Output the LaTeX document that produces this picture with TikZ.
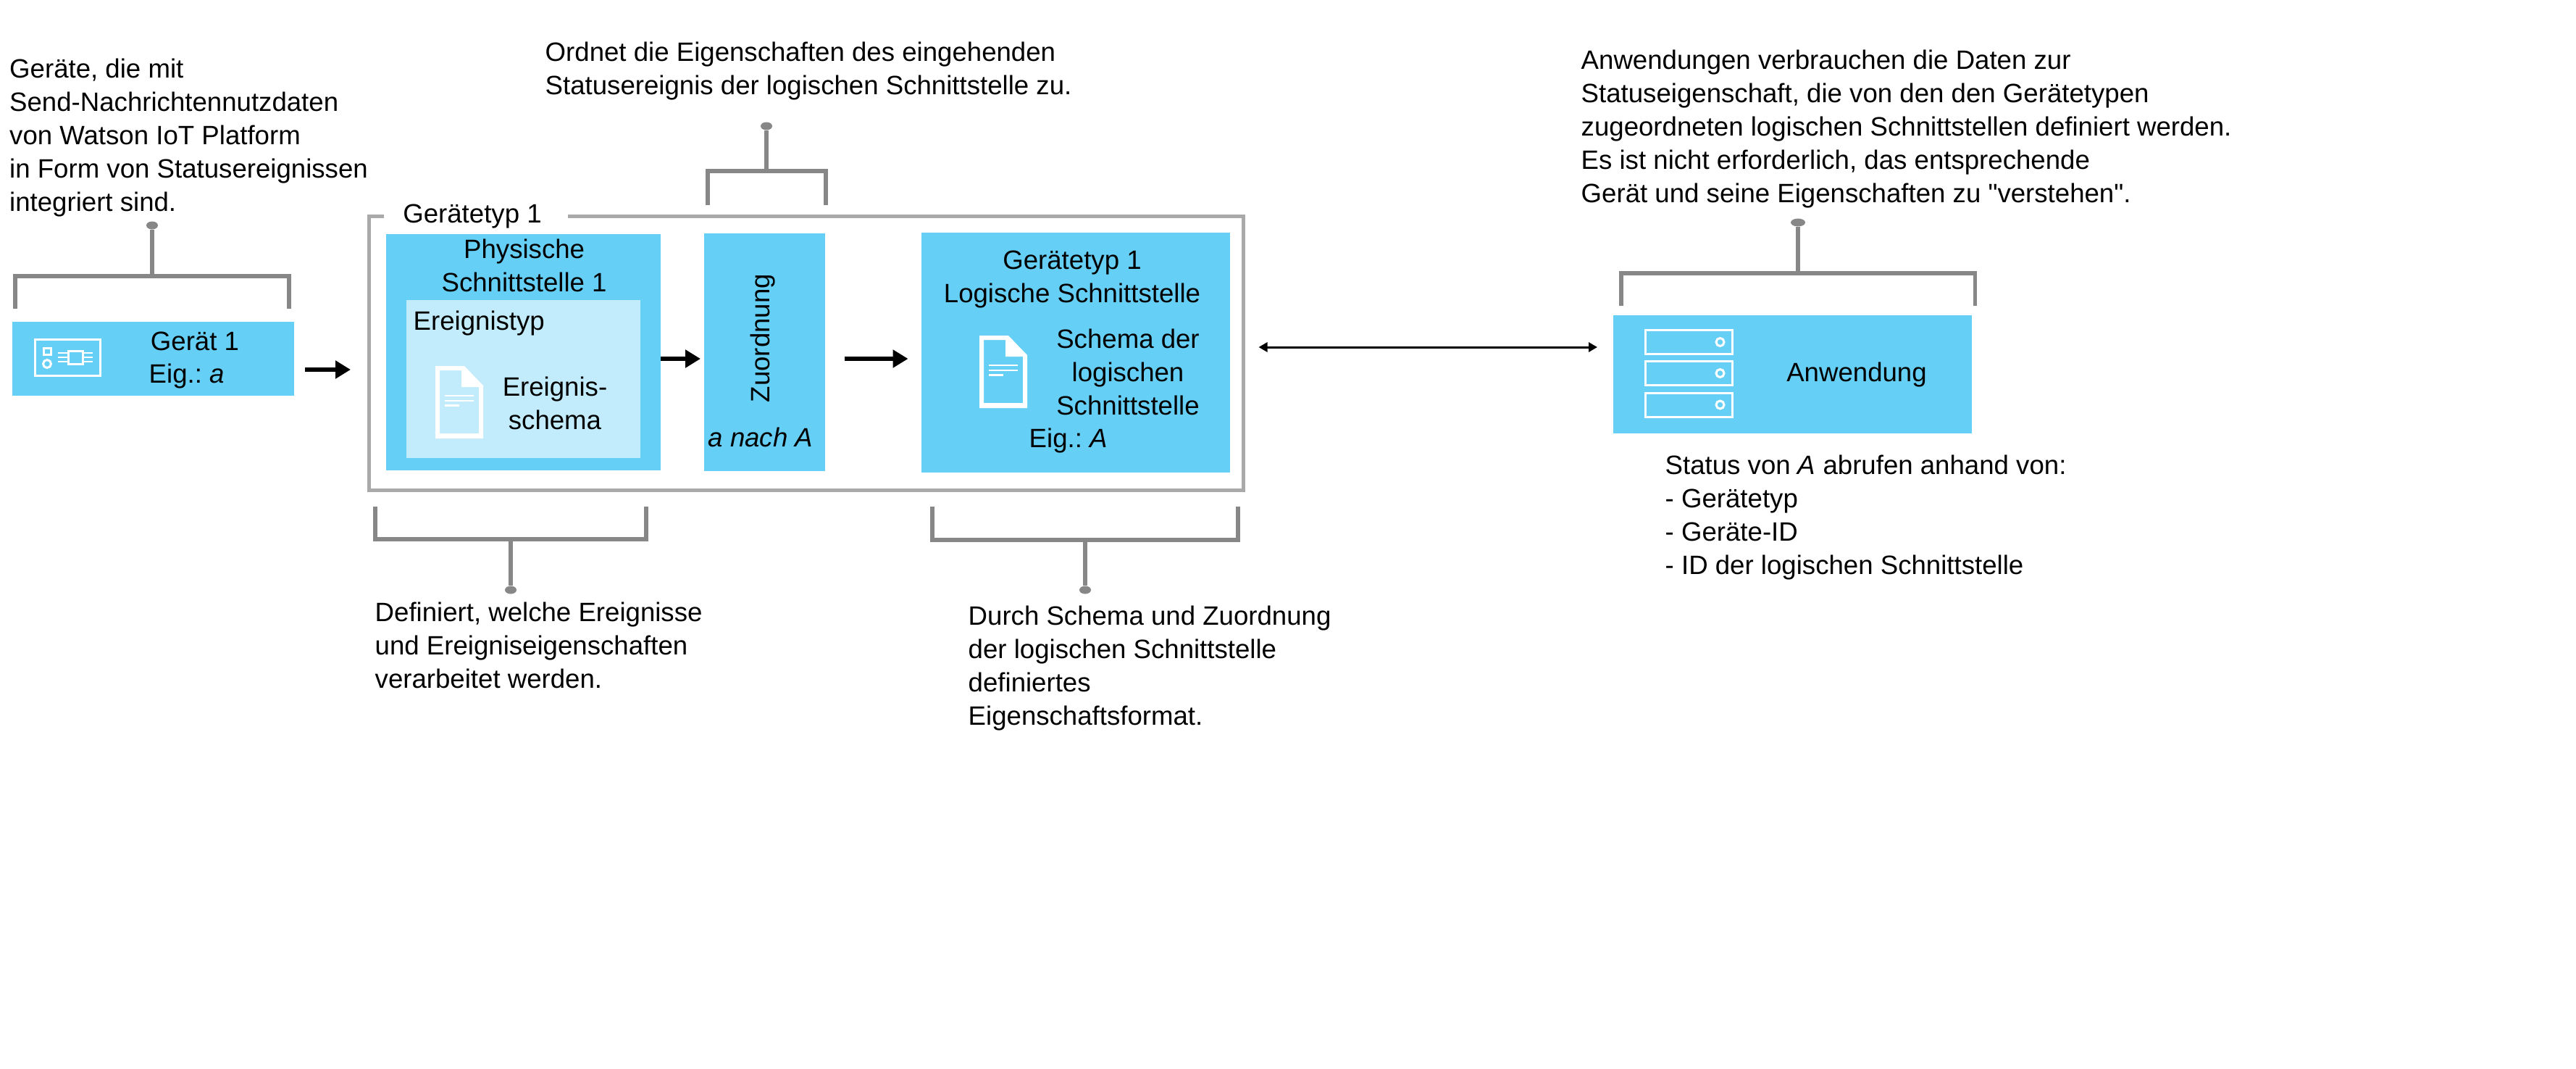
\documentclass[tikz,border=0pt]{standalone}
\usepackage{fontspec}
\setmainfont{Liberation Sans}
\newfontfamily\quotefont{Liberation Sans}
\usetikzlibrary{arrows.meta,shapes.geometric}
\definecolor{boxblue}{HTML}{66CFF5}
\definecolor{paleblue}{HTML}{C2ECFB}
\definecolor{brkgray}{HTML}{878787}
\definecolor{framegray}{HTML}{A9A9A9}
\newcommand{\notefont}{\fontsize{10.42pt}{13.07pt}\selectfont\frenchspacing}
\tikzset{
  note/.style={font=\notefont, inner sep=0pt, align=left, anchor=base west},
  label/.style={font=\notefont, inner sep=0pt, align=center, anchor=base},
  blue/.style={fill=boxblue, inner sep=0pt, outer sep=0pt},
  typeframe/.style={draw=framegray, line width=0.05cm, inner sep=0pt, outer sep=0pt},
  bracket/.style={draw=brkgray, line width=0.055cm},
  dotmark/.style={ellipse, fill=brkgray, inner sep=0pt, minimum width=0.16cm, minimum height=0.11cm},
  flow/.style={line width=0.06cm, -{Triangle[length=0.21cm,width=0.24cm]}},
  both/.style={line width=0.03cm, {Triangle[length=0.12cm,width=0.13cm]}-{Triangle[length=0.12cm,width=0.13cm]}},
  icon/.style={draw=white, line width=0.03cm},
  docicon/.pic={
    \fill[white, even odd rule] (0,0) -- (0.40,0) -- (0.66,0.27) -- (0.66,1) -- (0,1) -- cycle
      (0.06,0.06) -- (0.36,0.06) -- (0.36,0.29) -- (0.60,0.29) -- (0.60,0.93) -- (0.06,0.93) -- cycle;
    \draw[white, line width=0.025cm] (0.13,0.41) -- (0.53,0.41);
    \draw[white, line width=0.025cm] (0.13,0.48) -- (0.53,0.48);
    \draw[white, line width=0.025cm] (0.13,0.545) -- (0.33,0.545);
  }
}
\begin{document}
\begin{tikzpicture}[x=1cm,y=-1cm]
\useasboundingbox (0,0) rectangle (35.56,14.74);
\node[blue, minimum width=3.89cm, minimum height=1.02cm] (device) at (2.115,4.95) {};
\node[typeframe, minimum width=12.07cm, minimum height=3.78cm] (frame) at (11.125,4.87) {};
\fill[white] (5.30,2.90) rectangle (7.84,3.06);
\node[blue, minimum width=3.79cm, minimum height=3.26cm] (phys) at (7.225,4.86) {};
\node[fill=paleblue, inner sep=0pt, minimum width=3.23cm, minimum height=2.18cm] (event) at (7.225,5.23) {};
\node[blue, minimum width=1.67cm, minimum height=3.28cm] (mapping) at (10.555,4.86) {};
\node[blue, minimum width=4.255cm, minimum height=3.31cm] (logic) at (14.8475,4.865) {};
\node[blue, minimum width=4.945cm, minimum height=1.63cm] (app) at (24.7425,5.165) {};

\draw[flow, shorten <=0.15cm, shorten >=0.25cm] (device.east |- 0,5.10) -- (frame.west |- 0,5.10);
\draw[flow, shorten >=0.05cm] (phys.east |- 0,4.95) -- (mapping.west |- 0,4.95);
\draw[flow, shorten <=0.27cm, shorten >=0.185cm] (mapping.east |- 0,4.95) -- (logic.west |- 0,4.95);
\draw[both, shorten <=0.215cm, shorten >=0.22cm] (frame.east |- 0,4.79) -- (app.west |- 0,4.79);

\node[note] (devnote) at (0.125,2.91) {Geräte, die mit\\Send-Nachrichtennutzdaten\\von Watson IoT Platform\\in Form von Statusereignissen\\integriert sind.};
\node[note] (mapnote) at (7.52,1.30) {Ordnet die Eigenschaften des eingehenden\\Statusereignis der logischen Schnittstelle zu.};
\node[note] (appnote) at (21.82,2.79) {Anwendungen verbrauchen die Daten zur\\Statuseigenschaft, die von den den Gerätetypen\\zugeordneten logischen Schnittstellen definiert werden.\\Es ist nicht erforderlich, das entsprechende\\Gerät und seine Eigenschaften zu {\quotefont"}verstehen{\quotefont"}.};
\node[note] (physnote) at (5.17,9.49) {Definiert, welche Ereignisse\\und Ereigniseigenschaften\\verarbeitet werden.};
\node[note] (logicnote) at (13.36,10.00) {Durch Schema und Zuordnung\\der logischen Schnittstelle\\definiertes\\Eigenschaftsformat.};
\node[note] (statusnote) at (22.98,7.92) {Status von \textit{A} abrufen anhand von:\\- Gerätetyp\\- Geräte-ID\\- ID der logischen Schnittstelle};

\node[label] (devlabel) at (2.69,4.83) {Gerät 1};
\node[note] (devprop) at (2.05,5.28) {Eig.: \textit{a}};
\node[label] (typelabel) at (6.52,3.07) {Gerätetyp 1};
\node[label] (physlabel) at (7.236,4.02) {Physische\\Schnittstelle 1};
\node[note] (eventlabel) at (5.70,4.55) {Ereignistyp};
\node[label] (schemalabel) at (7.66,5.92) {Ereignis-\\schema};
\node[label, rotate=90] (maplabel) at (10.62,4.667) {Zuordnung};
\node[label] (mapprop) at (10.50,6.16) {\textit{a nach A}};
\node[label] (logiclabel) at (14.80,4.17) {Gerätetyp 1\\Logische Schnittstelle};
\node[label] (logicschema) at (15.57,5.72) {Schema der\\logischen\\Schnittstelle};
\node[note] (logicprop) at (14.20,6.17) {Eig.: \textit{A}};
\node[label] (applabel) at (25.63,5.26) {Anwendung};

\node[dotmark] (devdot) at (2.10,3.11) {};
\coordinate (devbrk) at (2.10,3.81);
\draw[bracket] (0.21,4.26) |- (3.99,3.81) -- (3.99,4.26);
\draw[bracket] (devbrk) -- (devdot);
\node[dotmark] (mapdot) at (10.58,1.74) {};
\coordinate (mapbrk) at (10.58,2.36);
\draw[bracket] (9.77,2.83) |- (11.40,2.36) -- (11.40,2.83);
\draw[bracket] (mapbrk) -- (mapdot);
\node[dotmark] (physdot) at (7.05,8.14) {};
\coordinate (physbrk) at (7.05,7.44);
\draw[bracket] (5.18,6.99) |- (8.92,7.44) -- (8.92,6.99);
\draw[bracket] (physbrk) -- (physdot);
\node[dotmark] (logicdot) at (14.98,8.14) {};
\coordinate (logicbrk) at (14.98,7.45);
\draw[bracket] (12.87,6.99) |- (17.09,7.45) -- (17.09,6.99);
\draw[bracket] (logicbrk) -- (logicdot);
\node[dotmark, minimum width=0.20cm] (appdot) at (24.82,3.07) {};
\coordinate (appbrk) at (24.82,3.77);
\draw[bracket] (22.38,4.22) |- (27.265,3.77) -- (27.265,4.22);
\draw[bracket] (appbrk) -- (appdot);

\draw[icon] (0.48,4.68) rectangle (1.38,5.18);
\draw[icon] (0.60,4.80) rectangle (0.70,4.89);
\draw[icon] (0.65,5.02) circle (0.055);
\draw[icon] (0.94,4.84) rectangle (1.14,5.02);
\foreach \pin in {4.87,4.93,4.99} {
  \draw[white, line width=0.02cm] (0.80,\pin) -- (0.94,\pin);
  \draw[white, line width=0.02cm] (1.14,\pin) -- (1.28,\pin);
}
\pic at (6.01,5.05) {docicon};
\pic at (13.52,4.63) {docicon};
\foreach \row in {4.555,4.985,5.42} {
  \draw[icon] (22.715,\row) rectangle (23.915,\row+0.33);
  \draw[icon] (23.745,\row+0.165) circle (0.055);
}
\end{tikzpicture}
\end{document}
